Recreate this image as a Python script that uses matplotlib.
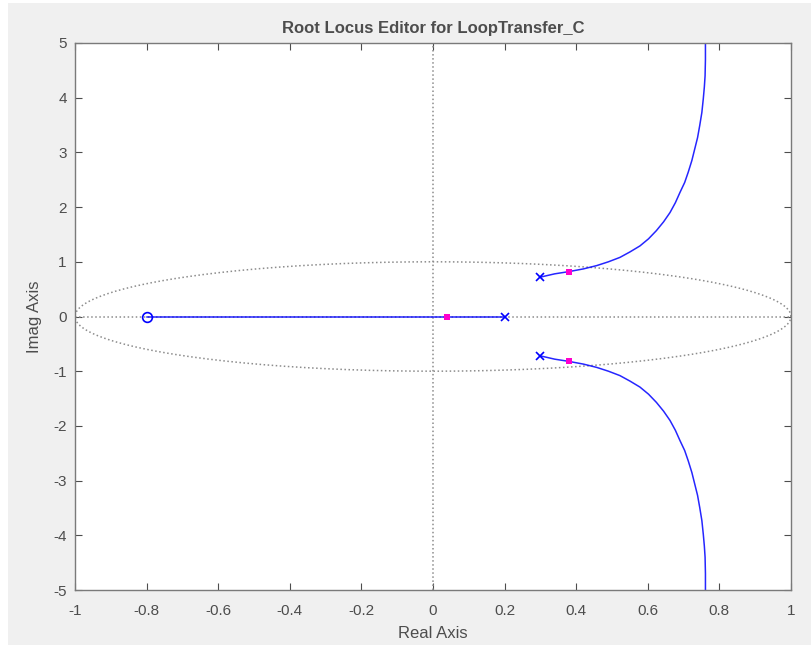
import matplotlib.pyplot as plt
from matplotlib.patches import Rectangle
import numpy as np

plt.rcParams['font.family'] = ['Liberation Sans', 'DejaVu Sans']
plt.rcParams['axes.unicode_minus'] = False

# open-loop zero and poles
zero_re = [-0.8]
zero_im = [0.0]
pole_re = [0.2, 0.3, 0.3]
pole_im = [0.0, 0.72, -0.72]

# real-axis branch (zero to pole)
real_branch_re = [-0.8, 0.2]
real_branch_im = [0.0, 0.0]

# upper complex branch (lower one is its mirror)
branch_re = [0.300, 0.340, 0.379, 0.420, 0.457, 0.490, 0.522, 0.550, 0.578, 0.602,
             0.624, 0.644, 0.662, 0.677, 0.690, 0.703, 0.713, 0.723, 0.731, 0.739,
             0.745, 0.751, 0.755, 0.758, 0.760, 0.761, 0.761]
branch_im = [0.72, 0.78, 0.82, 0.87, 0.93, 1.00, 1.08, 1.18, 1.29, 1.42,
             1.57, 1.73, 1.90, 2.08, 2.27, 2.45, 2.64, 2.85, 3.06, 3.27,
             3.49, 3.73, 3.98, 4.20, 4.40, 4.70, 5.00]

# current closed-loop poles (magenta squares)
cl_re = [0.038, 0.379, 0.379]
cl_im = [0.0, 0.82, -0.82]

grey = '#4d4d4d'
blue = '#0000ff'

fig = plt.figure(figsize=(8.12, 6.45), dpi=100, facecolor='white')
fig.patches.append(Rectangle((8 / 812, 0), 1, 642 / 645, transform=fig.transFigure,
                             facecolor='#f0f0f0', edgecolor='none', zorder=-10))
ax = fig.add_axes([75 / 812, 55 / 645, 716 / 812, 547 / 645])

# unit circle and axis guides
th = np.linspace(0, 2 * np.pi, 400)
ax.plot(np.cos(th), np.sin(th), ls=':', color='#8c8c8c', lw=1.1)
ax.axvline(0, ls=':', color='#8c8c8c', lw=1.1)
ax.axhline(0, ls=':', color='#8c8c8c', lw=1.1)

ax.plot(real_branch_re, real_branch_im, color=blue, lw=1.1, alpha=0.85)
ax.plot(branch_re, branch_im, color=blue, lw=1.1, alpha=0.85)
ax.plot(branch_re, [-v for v in branch_im], color=blue, lw=1.1, alpha=0.85)

ax.plot(zero_re, zero_im, 'o', mfc='none', mec=blue, ms=7, mew=1.2)
ax.plot(pole_re, pole_im, 'x', color=blue, ms=6, mew=1.2)
ax.plot(cl_re, cl_im, 's', color='#ff00cc', ms=5, mew=0)

ax.set_xlim(-1, 1)
ax.set_ylim(-5, 5)
ax.set_xticks(np.arange(-1, 1.01, 0.2))
ax.set_xticklabels(['-1', '-0.8', '-0.6', '-0.4', '-0.2', '0', '0.2', '0.4', '0.6', '0.8', '1'])
ax.set_yticks(range(-5, 6))
ax.tick_params(direction='in', top=True, right=True, colors=grey, labelsize=11,
               length=5, width=0.8, labelcolor=grey)
ax.tick_params(axis='x', pad=10)
ax.tick_params(axis='y', pad=6)
for s in ax.spines.values():
    s.set_color('#7a7a7a')
    s.set_linewidth(1.0)

ax.set_title('Root Locus Editor for LoopTransfer_C', fontsize=12, fontweight='bold',
             color=grey, pad=7)
ax.set_xlabel('Real Axis', fontsize=12, color=grey, labelpad=6)
ax.set_ylabel('Imag Axis', fontsize=12, color=grey, labelpad=8)

fig.savefig('out.png', dpi=100, facecolor=fig.get_facecolor())
